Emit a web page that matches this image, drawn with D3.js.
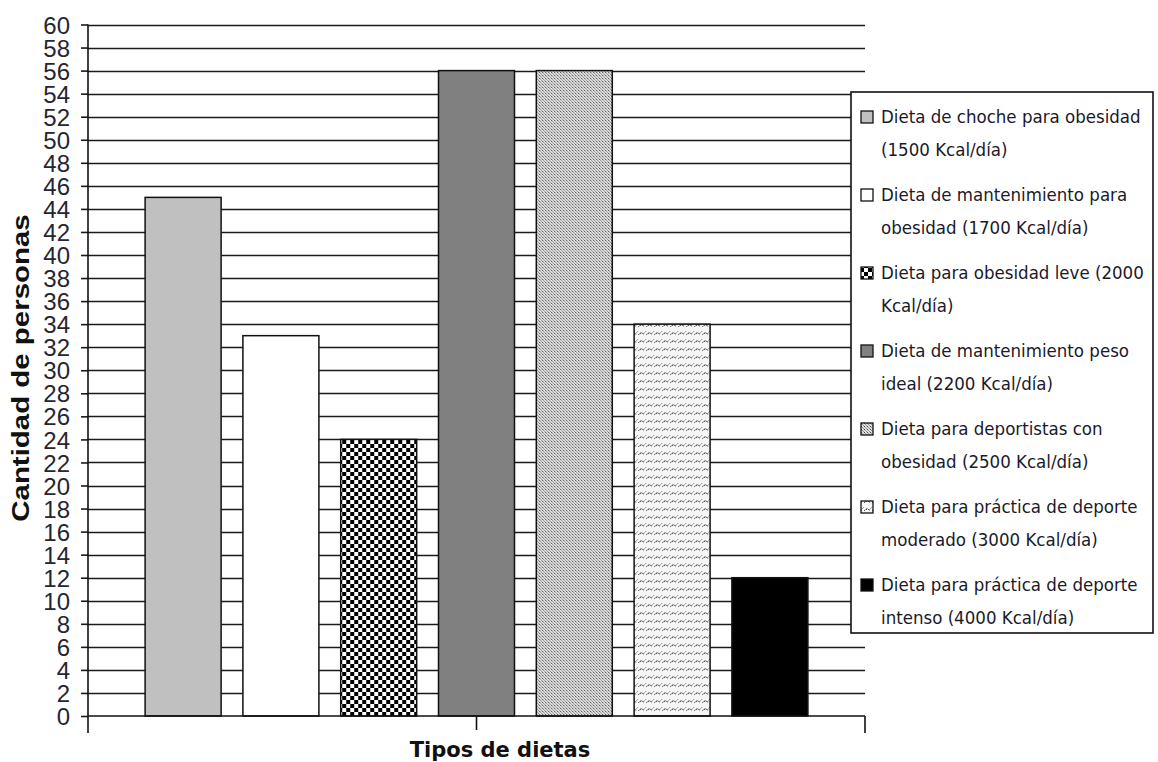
<!DOCTYPE html>
<html><head><meta charset="utf-8">
<script src="https://cdn.jsdelivr.net/npm/d3@7"></script>
<style>body{margin:0;background:#fff}svg{display:block}</style>
</head><body><svg id="c" width="1158" height="762"></svg>
<script>
const categories = ["Tipos de dietas"];
const seriesNames = [
  "Dieta de choche para obesidad (1500 Kcal/día)",
  "Dieta de mantenimiento para obesidad (1700 Kcal/día)",
  "Dieta para obesidad leve (2000 Kcal/día)",
  "Dieta de mantenimiento peso ideal (2200 Kcal/día)",
  "Dieta para deportistas con obesidad (2500 Kcal/día)",
  "Dieta para práctica de deporte moderado (3000 Kcal/día)",
  "Dieta para práctica de deporte intenso (4000 Kcal/día)"
];
const legendLines = [
  ["Dieta de choche para obesidad", "(1500 Kcal/día)"],
  ["Dieta de mantenimiento para", "obesidad (1700 Kcal/día)"],
  ["Dieta para obesidad leve (2000", "Kcal/día)"],
  ["Dieta de mantenimiento peso", "ideal (2200 Kcal/día)"],
  ["Dieta para deportistas con", "obesidad (2500 Kcal/día)"],
  ["Dieta para práctica de deporte", "moderado (3000 Kcal/día)"],
  ["Dieta para práctica de deporte", "intenso (4000 Kcal/día)"]
];
const values = [45, 33, 24, 56, 56, 34, 12];
const yTicks = d3.range(0, 61, 2);
const fills = ["#c0c0c0", "#ffffff", "url(#pChecker)", "#808080", "url(#pDense)", "url(#pSparse)", "#000000"];

const svg = d3.select("#c");
const L = 88, R = 865, T = 24.5, B = 716;

// patterns
const defs = svg.append("defs");
const pc = defs.append("pattern").attr("id","pChecker").attr("patternUnits","userSpaceOnUse").attr("width",8).attr("height",8);
pc.append("rect").attr("width",8).attr("height",8).attr("fill","#fff");
pc.append("rect").attr("width",4).attr("height",4).attr("fill","#000");
pc.append("rect").attr("x",4).attr("y",4).attr("width",4).attr("height",4).attr("fill","#000");
const pd = defs.append("pattern").attr("id","pDense").attr("patternUnits","userSpaceOnUse").attr("width",6).attr("height",6);
pd.append("rect").attr("width",6).attr("height",6).attr("fill","#e0e0e0");
[[0,0],[1,1],[2,2],[3,3],[4,4],[5,5],[3,0],[4,1],[5,2],[0,3],[1,4],[2,5]].forEach(([x,y],i)=>{
  pd.append("rect").attr("x",x).attr("y",y).attr("width",1).attr("height",1).attr("fill", i%3===0 ? "#4a4a4a" : "#939393");
});
const ps = defs.append("pattern").attr("id","pSparse").attr("patternUnits","userSpaceOnUse").attr("width",8).attr("height",8);
ps.append("rect").attr("width",8).attr("height",8).attr("fill","#f6f6f6");
[[0,6],[1,5],[2,4],[3,4],[4,5],[5,5],[6,4],[7,3],[2,5],[5,6]].forEach(([x,y],i)=>{
  ps.append("rect").attr("x",x).attr("y",y).attr("width",1).attr("height",1).attr("fill", i%4===0 ? "#505050" : "#a0a0a0");
});

const y = d3.scaleLinear().domain([0, 60]).range([B, T]);
const x0 = d3.scaleBand().domain(categories).range([L, R]).paddingInner(0).paddingOuter(0.0675);
const x1 = d3.scaleBand().domain(seriesNames).range([0, x0.bandwidth()]).paddingInner(0.223).paddingOuter(0.1115);

// gridlines
svg.append("g").selectAll("line").data(yTicks.filter(d => d > 0)).join("line")
  .attr("x1", L).attr("x2", R).attr("y1", d => Math.round(y(d)) + 0.5).attr("y2", d => Math.round(y(d)) + 0.5)
  .attr("stroke", "#1a1a1a").attr("stroke-width", 1.6);

// bars
const g = svg.append("g").attr("transform", `translate(${x0(categories[0])},0)`);
g.selectAll("rect").data(values).join("rect")
  .attr("x", (d, i) => x1(seriesNames[i]))
  .attr("y", d => y(d))
  .attr("width", x1.bandwidth())
  .attr("height", d => B - y(d))
  .attr("fill", (d, i) => fills[i])
  .attr("stroke", "#111").attr("stroke-width", 1.5);

// y axis
const yAxis = d3.axisLeft(y).tickValues(yTicks).tickSize(7).tickPadding(11);
const ya = svg.append("g").attr("transform", `translate(${L},0)`).call(yAxis);
ya.select(".domain").remove();
ya.selectAll(".tick line").attr("stroke", "#1a1a1a").attr("stroke-width", 1.6);
ya.selectAll(".tick text").attr("font-family", "Liberation Sans, Arial, sans-serif").attr("font-size", 24)
  .attr("fill", "#262633").attr("dy", "0.36em");
svg.append("line").attr("x1", L).attr("x2", L).attr("y1", T).attr("y2", B + 17).attr("stroke", "#111").attr("stroke-width", 1.6);

// x axis
svg.append("line").attr("x1", L).attr("x2", R).attr("y1", B).attr("y2", B).attr("stroke", "#111").attr("stroke-width", 1.6);
const xTickPos = [x0(categories[0]) + x0.bandwidth() / 2, R];
svg.append("g").selectAll("line").data(xTickPos).join("line")
  .attr("x1", d => d).attr("x2", d => d).attr("y1", B).attr("y2", (d, i) => i === 0 ? B + 14 : B + 17)
  .attr("stroke", "#111").attr("stroke-width", 1.6);

// titles
svg.append("text").attr("x", 500).attr("y", 757).attr("text-anchor", "middle")
  .attr("font-family", "DejaVu Sans, sans-serif").attr("font-weight", "bold").attr("font-size", 21)
  .attr("fill", "#111").text("Tipos de dietas");
svg.append("text").attr("transform", "translate(29,368) rotate(-90) scale(1.28,1)").attr("text-anchor", "middle")
  .attr("font-family", "Liberation Sans, Arial, sans-serif").attr("font-weight", "bold").attr("font-size", 23)
  .attr("fill", "#111").text("Cantidad de personas");

// legend
const lg = svg.append("g");
lg.append("rect").attr("x", 851).attr("y", 92).attr("width", 302).attr("height", 541)
  .attr("fill", "#fff").attr("stroke", "#111").attr("stroke-width", 1.6);
const rowY = d3.scaleBand().domain(seriesNames).range([101, 647]);
seriesNames.forEach((s, i) => {
  const ry = rowY(s);
  lg.append("rect").attr("x", 861).attr("y", ry + 10).attr("width", 12).attr("height", 12)
    .attr("fill", fills[i]).attr("stroke", "#111").attr("stroke-width", 1.3);
  legendLines[i].forEach((t, j) => {
    lg.append("text").attr("x", 881).attr("y", ry + 22 + j * 33)
      .attr("font-family", "DejaVu Sans Condensed, DejaVu Sans, sans-serif").attr("font-size", 18.5)
      .attr("fill", "#1a1a2a").text(t);
  });
});
</script></body></html>
